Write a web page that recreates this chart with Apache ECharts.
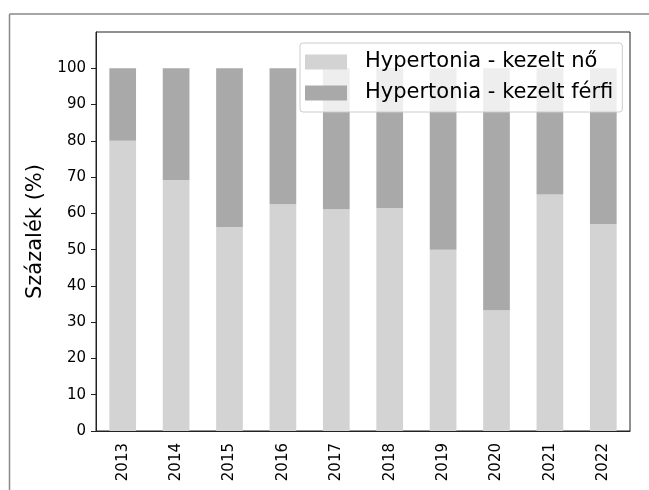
<!DOCTYPE html>
<html>
<head>
<meta charset="utf-8">
<script src="https://cdn.jsdelivr.net/npm/echarts@6/dist/echarts.min.js"></script>
<style>
  html, body { margin: 0; padding: 0; background: #fff; }
  #chart { width: 649px; height: 490px; }
</style>
</head>
<body>
<div id="chart"></div>
<script>
// évek és arányok (%)
const years = ['2013', '2014', '2015', '2016', '2017', '2018', '2019', '2020', '2021', '2022'];
const noValues = [80.0, 69.2, 56.25, 62.5, 61.1, 61.5, 50.0, 33.3, 65.2, 57.1];
const ferfiValues = [20.0, 30.8, 43.75, 37.5, 38.9, 38.5, 50.0, 66.7, 34.8, 42.9];
const yTicks = [0, 10, 20, 30, 40, 50, 60, 70, 80, 90, 100];
const seriesNames = ['Hypertonia - kezelt nő', 'Hypertonia - kezelt férfi'];

const font = 'DejaVu Sans';
const chart = echarts.init(document.getElementById('chart'));

chart.setOption({
  animation: false,
  textStyle: { fontFamily: font },
  grid: {
    left: 96,
    right: 19,
    top: 32,
    bottom: 59,
    show: true,
    borderColor: '#222',
    borderWidth: 1
  },
  legend: {
    data: seriesNames,
    orient: 'vertical',
    left: 300,
    top: 43,
    itemWidth: 42,
    itemHeight: 15,
    itemGap: 7,
    icon: 'rect',
    padding: [7, 9, 7, 5],
    backgroundColor: 'rgba(255,255,255,0.8)',
    borderColor: '#ccc',
    borderWidth: 1,
    borderRadius: 3,
    textStyle: {
      fontFamily: font,
      fontSize: 21,
      color: '#000',
      lineHeight: 24,
      padding: [0, 0, 0, 13]
    }
  },
  xAxis: {
    type: 'category',
    data: years,
    axisLine: { lineStyle: { color: '#222' } },
    axisTick: { alignWithLabel: true, length: 5, lineStyle: { color: '#222' } },
    axisLabel: {
      rotate: 90,
      fontSize: 15,
      color: '#000',
      margin: 12
    }
  },
  yAxis: {
    type: 'value',
    min: 0,
    max: 110,
    interval: 10,
    name: 'Százalék (%)',
    nameLocation: 'middle',
    nameGap: 45,
    nameTextStyle: { fontSize: 21, color: '#000', fontFamily: font },
    splitLine: { show: false },
    axisLine: { show: true, lineStyle: { color: '#222' } },
    axisTick: { show: true, length: 5, customValues: yTicks, lineStyle: { color: '#222' } },
    axisLabel: {
      fontSize: 15,
      color: '#000',
      margin: 10,
      customValues: yTicks
    }
  },
  series: [
    {
      name: seriesNames[0],
      type: 'bar',
      stack: 'total',
      barWidth: '50%',
      itemStyle: { color: '#d3d3d3' },
      data: noValues
    },
    {
      name: seriesNames[1],
      type: 'bar',
      stack: 'total',
      barWidth: '50%',
      itemStyle: { color: '#a9a9a9' },
      data: ferfiValues
    }
  ],
  graphic: [
    {
      type: 'line',
      shape: { x1: 9.5, y1: 14, x2: 649, y2: 14 },
      style: { stroke: '#888', lineWidth: 1.5 }
    },
    {
      type: 'line',
      shape: { x1: 9.5, y1: 14, x2: 9.5, y2: 490 },
      style: { stroke: '#888', lineWidth: 1.5 }
    }
  ]
});
</script>
</body>
</html>
